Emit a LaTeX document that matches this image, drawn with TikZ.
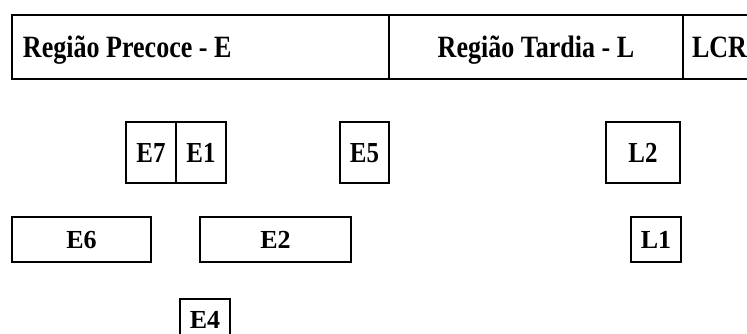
\documentclass[tikz,border=0pt]{standalone}
\usepackage{fontspec}
\setmainfont{Liberation Serif}
\newfontfamily\topfont[FakeStretch=0.84]{Liberation Serif}
\newfontfamily\rowafont[FakeStretch=0.86]{Liberation Serif}
\begin{document}
\begin{tikzpicture}[x=1pt,y=-1pt,
  box/.style={draw, line width=1.6pt, inner sep=0pt, outer sep=0pt, anchor=north west,
    font=\fontsize{26}{30}\selectfont\bfseries, text height=17.5pt, text depth=0pt},
  rowa/.style={box, font=\rowafont\fontsize{29}{34}\selectfont\bfseries, text height=19.5pt},
  cell/.style={box, font=\topfont\fontsize{31}{36}\selectfont\bfseries, text height=21pt}]
\useasboundingbox (0,0) rectangle (747,333);
\clip (0,0) rectangle (747,333);
% top bar
\node[cell, minimum height=64pt, inner xsep=11pt] (early) at (12,15) {\makebox[355pt][l]{Região Precoce - E}};
\node[cell, minimum width=294pt, minimum height=64pt] (late) at (389,15) {Região Tardia - L};
\node[cell, minimum height=64pt, inner xsep=9pt] (lcr) at (683,15) {\makebox[60pt][l]{LCR}};
% row 1
\node[rowa, minimum width=50pt, minimum height=61pt] (e7) at (126,122) {E7};
\node[rowa, minimum width=50pt, minimum height=61pt] (e1) at (176,122) {E1};
\node[rowa, minimum width=49pt, minimum height=61pt] (e5) at (340,122) {E5};
\node[rowa, minimum width=74pt, minimum height=61pt] (l2) at (606,122) {L2};
% row 2
\node[box, minimum width=139pt, minimum height=45pt] (e6) at (12,217) {E6};
\node[box, minimum width=151pt, minimum height=45pt] (e2) at (200,217) {E2};
\node[box, minimum width=50pt, minimum height=45pt] (l1) at (631,217) {L1};
% row 3
\node[box, minimum width=50pt, minimum height=41pt] (e4) at (180,299) {E4};
\end{tikzpicture}
\end{document}
